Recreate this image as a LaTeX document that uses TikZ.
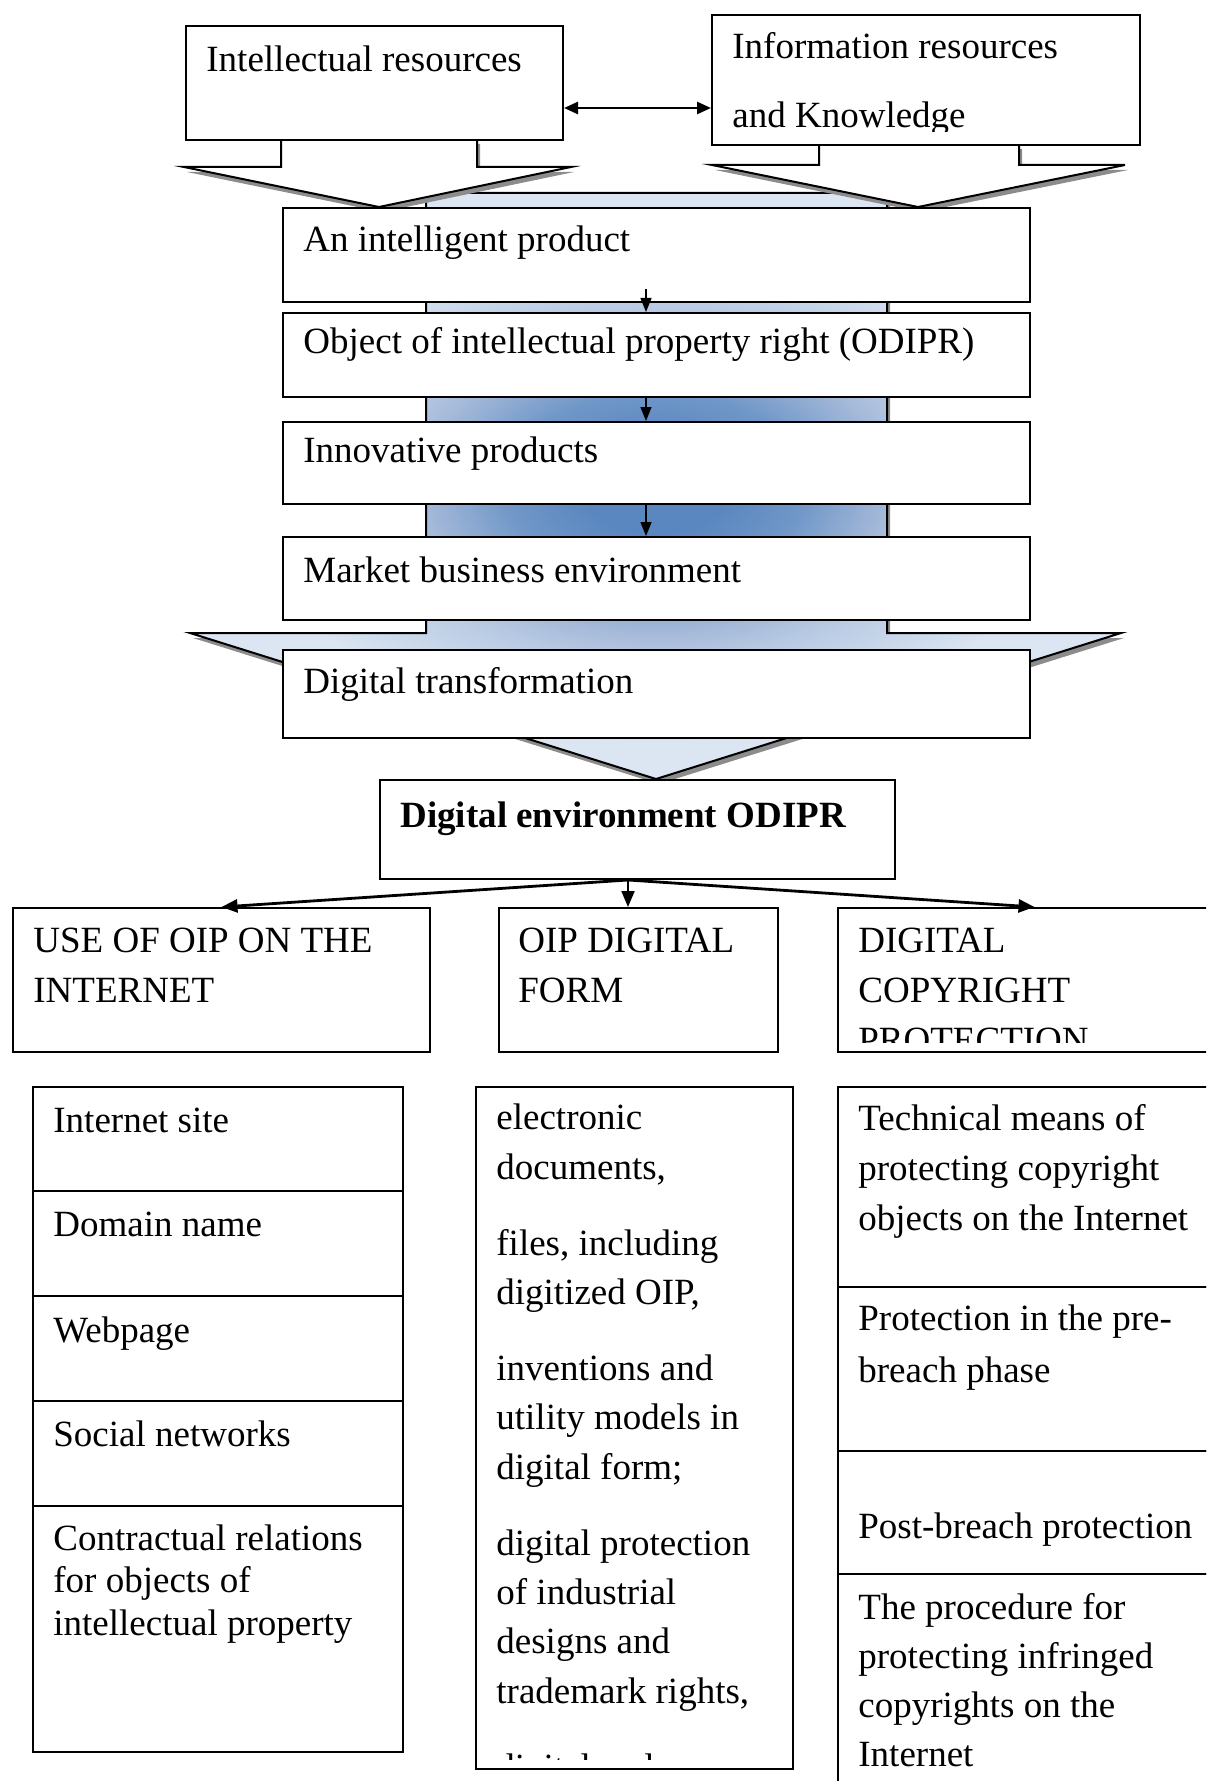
\documentclass[tikz,border=0pt]{standalone}
\usepackage{fontspec}
\setmainfont{Liberation Serif}
\usetikzlibrary{arrows.meta}

\definecolor{bluedark}{HTML}{5A87C0}
\definecolor{bluemid}{HTML}{7097C8}
\definecolor{bluesoft}{HTML}{A5B9D9}
\definecolor{bluelight}{HTML}{B8CAE3}
\definecolor{bluepale}{HTML}{DCE6F2}
\pgfdeclareradialshading{odiprglow}{\pgfpointorigin}{color(0bp)=(bluedark); color(4bp)=(bluedark); color(8bp)=(bluemid); color(12.5bp)=(bluesoft); color(15bp)=(bluelight); color(22bp)=(bluepale); color(50bp)=(bluepale)}

% multi-line nodes sit on the baseline of their last line
\tikzset{
  frame/.style={draw, line width=1pt, fill=white, inner sep=0pt, anchor=north west},
  txt/.style={anchor=base west, inner sep=0pt, align=left, font=\fontsize{18.5}{25}\selectfont},
  flow/.style={-{Triangle[length=7pt,width=5.5pt]}, line width=0.7pt},
  fork/.style={-{Triangle[length=8pt,width=6.5pt]}, line width=1.4pt},
  biarrow/.style={{Triangle[length=7pt,width=6pt]}-{Triangle[length=7pt,width=6pt]}, line width=1.3pt},
  blockarrow/.style={draw, line width=1pt, line join=miter},
  blockshadow/.style={fill=black!45, draw=none},
}

\begin{document}
\begin{tikzpicture}[x=0.5pt,y=-0.5pt]
  \useasboundingbox (0,0) rectangle (1206,1781);
  \clip (0,0) rectangle (1206,1781);
  % big arrow behind the chain
  \fill[blockshadow,shift={(3,5)}] (426,193) -- (887,193) -- (887,633) -- (1121,633)
    -- (656,779) -- (190,633) -- (426,633) -- cycle;
  \shadedraw[blockarrow,shading=odiprglow] (426,193) -- (887,193) -- (887,633) -- (1121,633)
    -- (656,779) -- (190,633) -- (426,633) -- cycle;
  % white arrows under the two sources
  \fill[blockshadow,shift={(3,5)}] (281,139) -- (281,167) -- (184,167) -- (379,207)
    -- (571,167) -- (477,167) -- (477,139) -- cycle;
  \filldraw[blockarrow,fill=white] (281,139) -- (281,167) -- (184,167) -- (379,207)
    -- (571,167) -- (477,167) -- (477,139) -- cycle;
  \fill[blockshadow,shift={(3,5)}] (819,144) -- (819,165) -- (712,165) -- (918,207)
    -- (1125,165) -- (1019,165) -- (1019,144) -- cycle;
  \filldraw[blockarrow,fill=white] (819,144) -- (819,165) -- (712,165) -- (918,207)
    -- (1125,165) -- (1019,165) -- (1019,144) -- cycle;

  % sources
  \node[frame,minimum width=188.5pt,minimum height=57pt] (ir) at (185,25) {};
  \node[frame,minimum width=214pt,minimum height=65pt] (info) at (711,14) {};
  \node[txt] (ir-t) at ([shift={(21,47)}]ir.north west) {Intellectual resources};
  \begin{scope}
    \clip (711,14) rectangle (1139,132);
    \node[txt] (info-t) at ([shift={(21,114)}]info.north west) {Information resources\\[9.5pt]and Knowledge};
  \end{scope}

  % chain
  \node[frame,minimum width=373.5pt,minimum height=47pt] (prod) at (282,207) {};
  \node[frame,minimum width=373.5pt,minimum height=42pt] (odipr) at (282,312) {};
  \node[frame,minimum width=373.5pt,minimum height=41pt] (innov) at (282,421) {};
  \node[frame,minimum width=373.5pt,minimum height=41.5pt] (market) at (282,536) {};
  \node[frame,minimum width=373.5pt,minimum height=44pt] (trans) at (282,649) {};
  \node[txt] (prod-t) at ([shift={(21,45)}]prod.north west) {An intelligent product};
  \node[txt] (odipr-t) at ([shift={(21,41)}]odipr.north west) {Object of intellectual property right (ODIPR)};
  \node[txt] (innov-t) at ([shift={(21,41)}]innov.north west) {Innovative products};
  \node[txt] (market-t) at ([shift={(21,46)}]market.north west) {Market business environment};
  \node[txt] (trans-t) at ([shift={(21,44)}]trans.north west) {Digital transformation};

  \node[frame,minimum width=257.5pt,minimum height=49.5pt] (env) at (379,779) {};
  \node[txt,font=\fontsize{18.5}{25}\selectfont\bfseries] (env-t) at ([shift={(21,48)}]env.north west) {Digital environment ODIPR};

  % three directions
  \node[frame,minimum width=208.5pt,minimum height=72pt] (use) at (12,907) {};
  \node[frame,minimum width=139.5pt,minimum height=72pt] (form) at (498,907) {};
  \node[frame,minimum width=196.5pt,minimum height=72pt] (copy) at (837,907) {};
  \node[txt] (use-t) at ([shift={(21,95)}]use.north west) {USE OF OIP ON THE\\INTERNET};
  \node[txt] (form-t) at ([shift={(20,95)}]form.north west) {OIP DIGITAL\\FORM};
  \begin{scope}
    \clip (837,907) rectangle (1206,1042);
    \node[txt] (copy-t) at ([shift={(21,145)}]copy.north west) {DIGITAL\\COPYRIGHT\\PROTECTION};
  \end{scope}

  % left column
  \node[frame,minimum width=185pt,minimum height=52pt] (site) at (32,1086) {};
  \node[frame,minimum width=185pt,minimum height=52.5pt] (domain) at (32,1190) {};
  \node[frame,minimum width=185pt,minimum height=52.5pt] (page) at (32,1295) {};
  \node[frame,minimum width=185pt,minimum height=52.5pt] (social) at (32,1400) {};
  \node[frame,minimum width=185pt,minimum height=123pt] (contract) at (32,1505) {};
  \node[txt] (site-t) at ([shift={(21,46)}]site.north west) {Internet site};
  \node[txt] (domain-t) at ([shift={(21,46)}]domain.north west) {Domain name};
  \node[txt] (page-t) at ([shift={(21,47)}]page.north west) {Webpage};
  \node[txt] (social-t) at ([shift={(21,46)}]social.north west) {Social networks};
  \node[txt] (contract-t) at ([shift={(21,130)}]contract.north west)
    {Contractual relations\\[-3.75pt]for objects of\\[-3.75pt]intellectual property};

  % middle column
  \node[frame,minimum width=158.5pt,minimum height=341pt] (digital) at (475,1086) {};
  \begin{scope}
    \clip (475,1086) rectangle (792,1759);
    \node[txt,font=\fontsize{18.5}{24.65}\selectfont] (digital-t) at ([shift={(21,693)}]digital.north west)
      {electronic\\documents,\\[13.35pt]files, including\\digitized OIP,\\[13.35pt]inventions and\\utility models in\\digital form;\\[13.35pt]digital protection\\of industrial\\designs and\\trademark rights,\\[13.35pt]digital and};
  \end{scope}

  % right column
  \node[frame,minimum width=196.5pt,minimum height=100pt] (tech) at (837,1086) {};
  \node[frame,minimum width=196.5pt,minimum height=82pt] (pre) at (837,1286) {};
  \node[frame,minimum width=196.5pt,minimum height=61.5pt] (post) at (837,1450) {};
  \node[frame,minimum width=196.5pt,minimum height=113.5pt] (proc) at (837,1573) {};
  \node[txt] (tech-t) at ([shift={(21,144)}]tech.north west) {Technical means of\\protecting copyright\\objects on the Internet};
  \node[txt] (pre-t) at ([shift={(21,96)}]pre.north west) {Protection in the pre-\\[1pt]breach phase};
  \node[txt] (post-t) at ([shift={(21,88)}]post.north west) {Post-breach protection};
  \node[txt] (proc-t) at ([shift={(21,193)}]proc.north west) {The procedure for\\[-0.5pt]protecting infringed\\[-0.5pt]copyrights on the\\[-0.5pt]Internet};

  % connectors
  \draw[biarrow] ([yshift=16.5pt]ir.south east) -- ([yshift=19pt]info.south west);
  \draw[flow] ([xshift=-5.25pt,yshift=7pt]prod.south) -- ([xshift=-5.25pt]odipr.north);
  \draw[flow] ([xshift=-5.25pt]odipr.south) -- ([xshift=-5.25pt]innov.north);
  \draw[flow] ([xshift=-5.25pt]innov.south) -- ([xshift=-5.25pt]market.north);
  \draw[fork] ([xshift=-4.75pt]env.south) -- (use.north);
  \draw[fork,line width=1pt] ([xshift=-4.75pt]env.south) -- ([xshift=-5.25pt]form.north);
  \draw[fork] ([xshift=-4.75pt]env.south) -- (copy.north);
\end{tikzpicture}
\end{document}
